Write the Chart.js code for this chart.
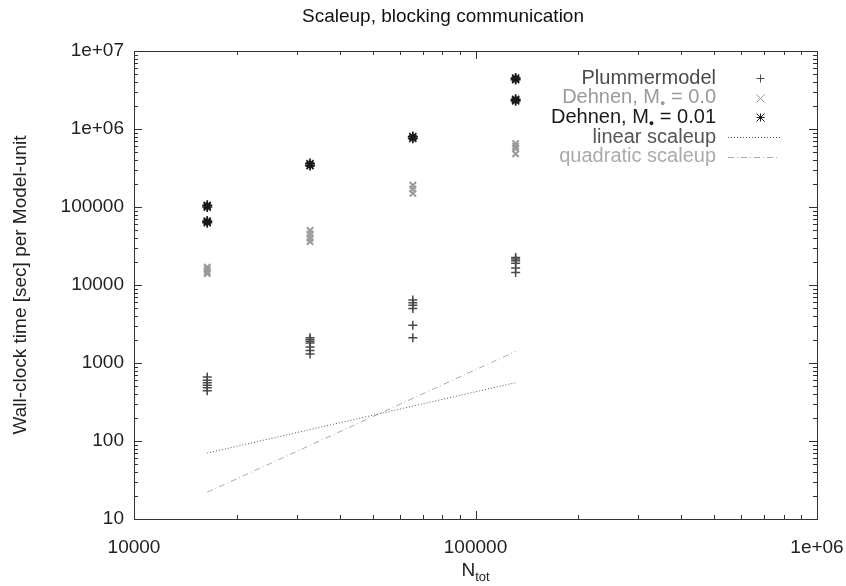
<!DOCTYPE html>
<html>
<head>
<meta charset="utf-8">
<script src="https://cdn.jsdelivr.net/npm/chart.js@4.4.1/dist/chart.umd.min.js"></script>
<style>
  html, body { margin: 0; padding: 0; background: #fff; }
  #wrap { width: 846px; height: 586px; }
</style>
</head>
<body>
<div id="wrap"><canvas id="scaleChart" width="846" height="586"></canvas></div>
<script>
const FONT = '"Liberation Sans", Arial, Helvetica, sans-serif';
const FS = 19;

// particle numbers (x) for each group of runs
const nValues = [16384, 32768, 65536, 131072];

// wall-clock times, one inner list per N value
const plummerTimes = [
  [660, 600, 560, 520, 480, 440],
  [2100, 2000, 1900, 1800, 1600, 1450, 1300],
  [6400, 5900, 5500, 5000, 3050, 2100],
  [22500, 21500, 20500, 19000, 16500, 14500]
];
const dehnen0Times = [
  [17000, 16000, 15000, 14000],
  [50000, 45000, 40000, 36000],
  [190000, 170000, 150000],
  [650000, 600000, 560000, 480000]
];
const dehnen001Times = [
  [105000, 100000, 66000, 63000],
  [360000, 340000],
  [800000, 760000],
  [4500000, 4300000, 2400000, 2300000]
];

// reference scaling lines
const scaleX = [16384, 131072];
const linearY = [70, 560];
const quadraticY = [22, 1408];

const xTickValues = [10000, 100000, 1000000];
const xTickLabels = ['10000', '100000', '1e+06'];
const yTickValues = [10, 100, 1000, 10000, 100000, 1000000, 10000000];
const yTickLabels = ['10', '100', '1000', '10000', '100000', '1e+06', '1e+07'];

function toPoints(groups) {
  const pts = [];
  groups.forEach(function (vals, i) {
    vals.forEach(function (v) { pts.push({ x: nValues[i], y: v }); });
  });
  return pts;
}
function linePoints(ys) {
  return scaleX.map(function (x, i) { return { x: x, y: ys[i] }; });
}
function withMinors(majors) {
  const out = [];
  majors.forEach(function (m, i) {
    out.push({ value: m, major: true });
    if (i < majors.length - 1) {
      for (let k = 2; k <= 9; k++) out.push({ value: m * k, major: false });
    }
  });
  return out;
}

const legendItems = [
  { pre: 'Plummermodel', color: '#4a4a4a', kind: 'cross' },
  { pre: 'Dehnen, M', post: ' = 0.0', color: '#9a9a9a', kind: 'crossRot' },
  { pre: 'Dehnen, M', post: ' = 0.01', color: '#1a1a1a', kind: 'star' },
  { pre: 'linear scaleup', color: '#555555', kind: 'dot' },
  { pre: 'quadratic scaleup', color: '#aaaaaa', kind: 'dashdot' }
];

const frame = {
  id: 'frame',
  afterDraw: function (chart) {
    const ctx = chart.ctx;
    const a = chart.chartArea;
    const xs = chart.scales.x, ys = chart.scales.y;
    ctx.save();
    ctx.strokeStyle = '#333';
    ctx.lineWidth = 1;
    ctx.strokeRect(Math.round(a.left) + 0.5, Math.round(a.top) + 0.5,
      Math.round(a.right - a.left), Math.round(a.bottom - a.top));
    ctx.beginPath();
    xs.ticks.forEach(function (t) {
      const p = Math.round(xs.getPixelForValue(t.value)) + 0.5;
      const len = t.major ? 8 : 4;
      ctx.moveTo(p, a.bottom); ctx.lineTo(p, a.bottom - len);
      ctx.moveTo(p, a.top); ctx.lineTo(p, a.top + len);
    });
    ys.ticks.forEach(function (t) {
      const p = Math.round(ys.getPixelForValue(t.value)) + 0.5;
      const len = t.major ? 8 : 4;
      ctx.moveTo(a.left, p); ctx.lineTo(a.left + len, p);
      ctx.moveTo(a.right, p); ctx.lineTo(a.right - len, p);
    });
    ctx.stroke();

    // title
    ctx.fillStyle = '#111';
    ctx.font = FS + 'px ' + FONT;
    ctx.textAlign = 'center';
    ctx.textBaseline = 'middle';
    ctx.fillText('Scaleup, blocking communication', 443, 17);

    // x axis title with subscript
    const cx = (a.left + a.right) / 2;
    ctx.font = FS + 'px ' + FONT;
    const wN = ctx.measureText('N').width;
    ctx.font = '13px ' + FONT;
    const wS = ctx.measureText('tot').width;
    const x0 = cx - (wN + wS) / 2;
    ctx.textAlign = 'left';
    ctx.font = FS + 'px ' + FONT;
    ctx.fillStyle = '#222';
    ctx.fillText('N', x0, 571);
    ctx.font = '13px ' + FONT;
    ctx.fillText('tot', x0 + wN, 577);

    // key
    const LF = 20;
    ctx.textAlign = 'right';
    legendItems.forEach(function (it, i) {
      const y = 78 + i * 19.7;
      ctx.fillStyle = it.color;
      ctx.font = LF + 'px ' + FONT;
      let xEnd = 716;
      if (it.post) {
        ctx.fillText(it.post, xEnd, y);
        xEnd -= ctx.measureText(it.post).width;
        ctx.font = '9px ' + FONT;
        ctx.fillText('\u25CF', xEnd, y + 6);
        xEnd -= ctx.measureText('\u25CF').width;
        ctx.font = LF + 'px ' + FONT;
      }
      ctx.fillText(it.pre, xEnd, y);
      ctx.strokeStyle = it.color;
      ctx.lineWidth = 1;
      ctx.beginPath();
      const mx = 760.5, my = Math.round(y) + 0.5, r = 4;
      if (it.kind === 'dot' || it.kind === 'dashdot') {
        ctx.setLineDash(it.kind === 'dot' ? [1, 2] : [6, 3, 1, 3]);
        ctx.moveTo(728, my); ctx.lineTo(780, my);
      } else {
        if (it.kind !== 'crossRot') {
          ctx.moveTo(mx - r, my); ctx.lineTo(mx + r, my);
          ctx.moveTo(mx, my - r); ctx.lineTo(mx, my + r);
        }
        if (it.kind !== 'cross') {
          ctx.moveTo(mx - r, my - r); ctx.lineTo(mx + r, my + r);
          ctx.moveTo(mx - r, my + r); ctx.lineTo(mx + r, my - r);
        }
      }
      ctx.stroke();
      ctx.setLineDash([]);
    });
    ctx.restore();
  }
};

new Chart(document.getElementById('scaleChart').getContext('2d'), {
  type: 'scatter',
  data: {
    datasets: [
      { label: 'Plummermodel', data: toPoints(plummerTimes), pointStyle: 'cross', pointRadius: 4.5,
        borderColor: '#4a4a4a', borderWidth: 1.5, backgroundColor: '#4a4a4a' },
      { label: 'Dehnen, M = 0.0', data: toPoints(dehnen0Times), pointStyle: 'crossRot', pointRadius: 4.5,
        borderColor: '#9a9a9a', borderWidth: 2, backgroundColor: '#9a9a9a' },
      { label: 'Dehnen, M = 0.01', data: toPoints(dehnen001Times), pointStyle: 'star', pointRadius: 5,
        borderColor: '#1a1a1a', borderWidth: 1.7, backgroundColor: '#1a1a1a' },
      { label: 'linear scaleup', data: linePoints(linearY), showLine: true, pointRadius: 0,
        borderColor: '#555555', borderWidth: 1, borderDash: [1, 2] },
      { label: 'quadratic scaleup', data: linePoints(quadraticY), showLine: true, pointRadius: 0,
        borderColor: '#aaaaaa', borderWidth: 1, borderDash: [6, 3, 1, 3] }
    ]
  },
  options: {
    responsive: false,
    animation: false,
    layout: { padding: { top: 51, right: 29, left: 0, bottom: 0 } },
    plugins: { legend: { display: false }, tooltip: { enabled: false }, title: { display: false } },
    scales: {
      x: {
        type: 'logarithmic', min: 10000, max: 1000000,
        afterBuildTicks: function (s) { s.ticks = withMinors(xTickValues); },
        afterFit: function (s) { s.height = 67; s.paddingLeft = 0; s.paddingRight = 0; },
        grid: { display: false, drawTicks: false },
        border: { display: false },
        ticks: {
          autoSkip: false, maxRotation: 0, padding: 17, color: '#222',
          font: { family: FONT, size: FS },
          callback: function (v) { const i = xTickValues.indexOf(v); return i >= 0 ? xTickLabels[i] : ''; }
        }
      },
      y: {
        type: 'logarithmic', min: 10, max: 10000000,
        afterBuildTicks: function (s) { s.ticks = withMinors(yTickValues); },
        afterFit: function (s) { s.width = 134; s.paddingTop = 0; s.paddingBottom = 0; },
        grid: { display: false, drawTicks: false },
        border: { display: false },
        title: { display: true, text: 'Wall-clock time [sec] per Model-unit', color: '#222',
          font: { family: FONT, size: FS }, padding: { top: 9, bottom: 0 } },
        ticks: {
          autoSkip: false, padding: 10, color: '#222',
          font: { family: FONT, size: FS },
          callback: function (v) { const i = yTickValues.indexOf(v); return i >= 0 ? yTickLabels[i] : ''; }
        }
      }
    }
  },
  plugins: [frame]
});
</script>
</body>
</html>
